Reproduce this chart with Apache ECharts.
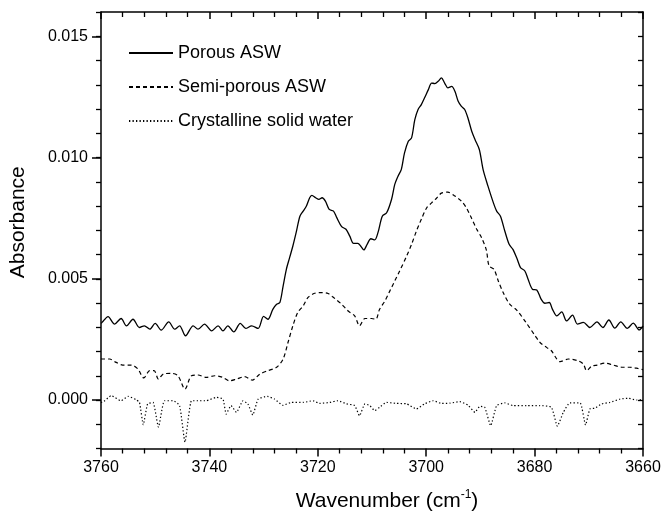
<!DOCTYPE html>
<html>
<head>
<meta charset="utf-8">
<script src="https://cdn.jsdelivr.net/npm/echarts@6/dist/echarts.min.js"></script>
<style>html,body{margin:0;padding:0;background:#fff}#c{width:664px;height:517px}</style>
</head>
<body>
<div id="c"></div>
<script>
// ---- data ----
const seriesNames = ['Porous ASW', 'Semi-porous ASW', 'Crystalline solid water'];
const xTickLabels = [3760, 3740, 3720, 3700, 3680, 3660];
const yTickLabels = [0.000, 0.005, 0.010, 0.015];

const porousW = [3760.0,
 3759.8,3758.7,3757.5,3756.3,3755.3,3754.1,3752.9,3752.0,3751.0,3750.0,
 3748.9,3747.5,3746.4,3745.5,3744.4,3743.0,3742.1,3740.9,3739.6,3738.4,
 3737.5,3736.6,3735.5,3734.3,3733.3,3732.2,3731.0,3730.0,3729.2,3728.3,
 3727.6,3727.0,3726.4,3725.8,3725.2,3724.6,3724.0,3723.3,3722.7,3722.1,
 3721.5,3721.1,3720.4,3719.8,3719.2,3718.6,3717.9,3717.1,3716.5,3715.6,
 3714.8,3714.1,3713.4,3712.6,3712.1,3711.5,3710.9,3710.2,3709.5,3708.9,
 3708.1,3707.3,3706.4,3705.8,3705.2,3704.6,3704.0,3703.3,3702.7,3702.1,
 3701.5,3700.9,3700.3,3699.6,3699.0,3698.4,3697.8,3697.2,3696.6,3696.0,
 3695.3,3694.7,3694.1,3693.5,3692.9,3692.3,3691.6,3691.0,3690.2,3689.5,
 3688.6,3687.6,3687.0,3686.3,3685.5,3684.7,3684.0,3683.2,3682.6,3681.8,
 3681.2,3680.4,3679.6,3678.8,3678.1,3677.3,3676.7,3675.9,3675.0,3674.1,
 3673.0,3672.1,3671.0,3669.8,3668.5,3667.4,3666.3,3665.2,3664.1,3662.9,
 3661.8,3660.7,3660.0];
const porousA = [0.00316,
 0.00320,0.00344,0.00313,0.00336,0.00306,0.00333,0.00299,0.00306,0.00292,0.00316,
 0.00288,0.00322,0.00292,0.00306,0.00265,0.00306,0.00292,0.00313,0.00285,0.00306,
 0.00285,0.00306,0.00281,0.00316,0.00295,0.00306,0.00295,0.00345,0.00333,0.00374,
 0.00395,0.00402,0.00470,0.00539,0.00587,0.00635,0.00690,0.00758,0.00779,0.00800,
 0.00834,0.00844,0.00834,0.00827,0.00834,0.00820,0.00786,0.00779,0.00752,0.00715,
 0.00704,0.00676,0.00646,0.00646,0.00635,0.00619,0.00642,0.00665,0.00660,0.00690,
 0.00758,0.00772,0.00827,0.00889,0.00923,0.00950,0.01019,0.01067,0.01081,0.01156,
 0.01198,0.01218,0.01246,0.01280,0.01307,0.01305,0.01314,0.01328,0.01307,0.01287,
 0.01293,0.01273,0.01232,0.01211,0.01198,0.01163,0.01108,0.01074,0.01033,0.00950,
 0.00882,0.00813,0.00779,0.00758,0.00697,0.00642,0.00621,0.00580,0.00546,0.00532,
 0.00498,0.00457,0.00454,0.00416,0.00399,0.00402,0.00374,0.00347,0.00363,0.00326,
 0.00350,0.00313,0.00320,0.00299,0.00322,0.00299,0.00330,0.00296,0.00322,0.00295,
 0.00317,0.00289,0.00306];

const semiW = [3760.0,
 3759.8,3758.4,3757.2,3756.0,3754.4,3753.2,3752.1,3751.0,3750.2,3749.4,
 3748.5,3747.0,3745.8,3744.5,3743.3,3742.1,3740.6,3739.0,3737.5,3736.3,
 3735.0,3733.5,3732.1,3730.7,3729.2,3727.6,3726.4,3725.5,3724.6,3723.7,
 3722.7,3721.8,3720.6,3719.3,3718.1,3716.9,3715.6,3714.4,3713.2,3712.3,
 3711.3,3710.1,3709.3,3708.6,3707.6,3706.7,3705.8,3704.9,3703.6,3702.7,
 3701.8,3700.9,3699.9,3699.0,3698.1,3697.2,3696.0,3694.7,3693.5,3692.6,
 3691.6,3690.7,3689.8,3688.9,3688.4,3687.5,3686.7,3685.8,3684.6,3683.3,
 3681.6,3679.9,3679.0,3677.8,3676.9,3675.9,3675.3,3673.8,3672.0,3671.0,
 3670.4,3669.5,3668.5,3667.0,3665.5,3663.9,3662.4,3660.9,3660.0];
const semiA = [0.00170,
 0.00169,0.00169,0.00155,0.00144,0.00144,0.00128,0.00091,0.00121,0.00121,0.00086,
 0.00107,0.00110,0.00100,0.00045,0.00100,0.00103,0.00093,0.00100,0.00093,0.00079,
 0.00086,0.00096,0.00082,0.00107,0.00121,0.00135,0.00169,0.00237,0.00306,0.00361,
 0.00388,0.00423,0.00440,0.00443,0.00439,0.00419,0.00395,0.00367,0.00347,0.00306,
 0.00336,0.00336,0.00333,0.00374,0.00409,0.00450,0.00491,0.00532,0.00594,0.00642,
 0.00697,0.00745,0.00793,0.00813,0.00832,0.00853,0.00857,0.00841,0.00820,0.00793,
 0.00748,0.00705,0.00670,0.00618,0.00553,0.00539,0.00491,0.00443,0.00395,0.00371,
 0.00320,0.00265,0.00237,0.00217,0.00203,0.00169,0.00158,0.00169,0.00162,0.00148,
 0.00121,0.00139,0.00144,0.00152,0.00144,0.00135,0.00135,0.00130,0.00125];

const crystW = [3760.0,
 3759.8,3758.1,3756.3,3755.0,3753.5,3752.9,3752.2,3751.4,3750.4,3749.4,
 3748.3,3746.7,3745.5,3744.5,3743.3,3741.8,3740.6,3738.7,3737.5,3736.9,
 3736.0,3735.0,3733.8,3732.9,3732.0,3731.0,3729.3,3728.0,3726.4,3724.9,
 3722.7,3720.9,3719.7,3717.8,3716.3,3714.7,3713.2,3712.3,3711.3,3710.4,
 3709.5,3708.6,3707.3,3705.5,3703.6,3701.8,3700.3,3698.7,3697.2,3695.6,
 3693.8,3692.3,3691.0,3690.1,3689.2,3688.1,3687.0,3685.5,3684.0,3681.5,
 3679.0,3676.9,3675.8,3674.7,3673.5,3671.6,3670.6,3669.8,3668.9,3667.6,
 3666.1,3664.2,3662.7,3661.2,3660.0];
const crystA = [-0.00008,
 -0.00010,0.00018,-0.00003,0.00015,0.00001,-0.00010,-0.00102,-0.00016,-0.00010,-0.00112,
 -0.00003,-0.00003,-0.00023,-0.00174,-0.00003,-0.00003,-0.00003,0.00011,0.00004,-0.00058,
 -0.00023,-0.00051,-0.00003,-0.00016,-0.00062,0.00004,0.00015,0.00004,-0.00022,-0.00010,
 -0.00010,-0.00003,-0.00014,-0.00010,-0.00003,-0.00016,-0.00023,-0.00065,-0.00016,-0.00023,
 -0.00044,-0.00030,-0.00010,-0.00014,-0.00016,-0.00037,-0.00016,-0.00003,-0.00014,-0.00013,
 -0.00007,-0.00021,-0.00051,-0.00026,-0.00030,-0.00106,-0.00023,-0.00012,-0.00023,-0.00023,
 -0.00023,-0.00030,-0.00108,-0.00051,-0.00012,-0.00012,-0.00103,-0.00037,-0.00034,-0.00016,
 -0.00010,0.00004,0.00007,0.00000,0.00001];

// ---- chart ----
const FONT = "'Liberation Sans', Arial, sans-serif";
const zip = (w, a) => w.map((x, i) => [x, a[i]]);
const chart = echarts.init(document.getElementById('c'), null, {renderer: 'canvas'});

const axisLine = {show: true, onZero: false, lineStyle: {color: '#000', width: 1.5}};
const baseX = {type: 'value', min: 3660, max: 3760, interval: 20, inverse: true, splitLine: {show: false}, axisLine: axisLine};
const baseY = {type: 'value', min: -0.002, max: 0.016, splitLine: {show: false}, axisLine: axisLine};

const mkSeries = (name, data, type, width, smooth) => ({
  name: name, type: 'line', data: data, symbol: 'none', showSymbol: false,
  xAxisIndex: 0, yAxisIndex: 0, animation: false, smooth: smooth,
  lineStyle: {color: '#000', width: width, type: type}
});

chart.setOption({
  animation: false,
  backgroundColor: '#fff',
  grid: {left: 101, right: 21, top: 12, bottom: 67, containLabel: false},
  legend: {
    data: seriesNames, orient: 'vertical', left: 123, top: 39,
    itemWidth: 44, itemHeight: 14, itemGap: 16, itemStyle: {opacity: 0},
    textStyle: {fontFamily: FONT, fontSize: 18, color: '#000'},
    selectedMode: false
  },
  xAxis: [
    Object.assign({}, baseX, {
      position: 'bottom',
      axisTick: {show: true, inside: false, length: 8, lineStyle: {color: '#000', width: 1.5}},
      minorTick: {show: true, splitNumber: 5, length: 5, lineStyle: {color: '#000', width: 1.3}},
      axisLabel: {show: true, margin: 11, fontFamily: FONT, fontSize: 16, color: '#000',
        formatter: function (v) { return xTickLabels.indexOf(Math.round(v)) >= 0 ? String(Math.round(v)) : ''; }},
      name: 'Wavenumber (cm{sup|-1})', nameLocation: 'middle', nameGap: 40,
      nameTextStyle: {fontFamily: FONT, fontSize: 21, color: '#000', padding: [0, 0, 0, 30],
        rich: {sup: {fontFamily: FONT, fontSize: 12, color: '#000', verticalAlign: 'top', lineHeight: 26}}}
    }),
    Object.assign({}, baseX, {
      position: 'top',
      axisTick: {show: true, inside: true, length: 7, lineStyle: {color: '#000', width: 1.5}},
      minorTick: {show: true, splitNumber: 5, length: 5, lineStyle: {color: '#000', width: 1.3}},
      axisLabel: {show: false}
    })
  ],
  yAxis: [
    Object.assign({}, baseY, {
      position: 'left', interval: 0.001,
      axisTick: {show: true, inside: false, length: 5, lineStyle: {color: '#000', width: 1.3}},
      axisLabel: {show: true, margin: 13, fontFamily: FONT, fontSize: 16, color: '#000',
        formatter: function (v) {
          return yTickLabels.some(t => Math.abs(t - v) < 1e-7) ? v.toFixed(3) : '';
        }},
      name: 'Absorbance', nameLocation: 'middle', nameGap: 72,
      nameTextStyle: {fontFamily: FONT, fontSize: 21, color: '#000', padding: [0, 0, 0, 16]}
    }),
    Object.assign({}, baseY, {
      position: 'left', offset: 0, interval: 0.001,
      axisLine: {show: false, onZero: false},
      axisTick: {show: true, inside: false, length: 9, customValues: yTickLabels, lineStyle: {color: '#000', width: 1.5}},
      axisLabel: {show: false}
    }),
    Object.assign({}, baseY, {
      position: 'right', interval: 0.001,
      axisTick: {show: true, inside: true, length: 5, lineStyle: {color: '#000', width: 1.3}},
      axisLabel: {show: false}
    })
  ],
  series: [
    mkSeries(seriesNames[0], zip(porousW, porousA), 'solid', 1.3, 0.3),
    mkSeries(seriesNames[1], zip(semiW, semiA), [4, 3], 1.2, 0.3),
    mkSeries(seriesNames[2], zip(crystW, crystA), [1.3, 2.2], 1.2, 0.15)
  ]
});
</script>
</body>
</html>
